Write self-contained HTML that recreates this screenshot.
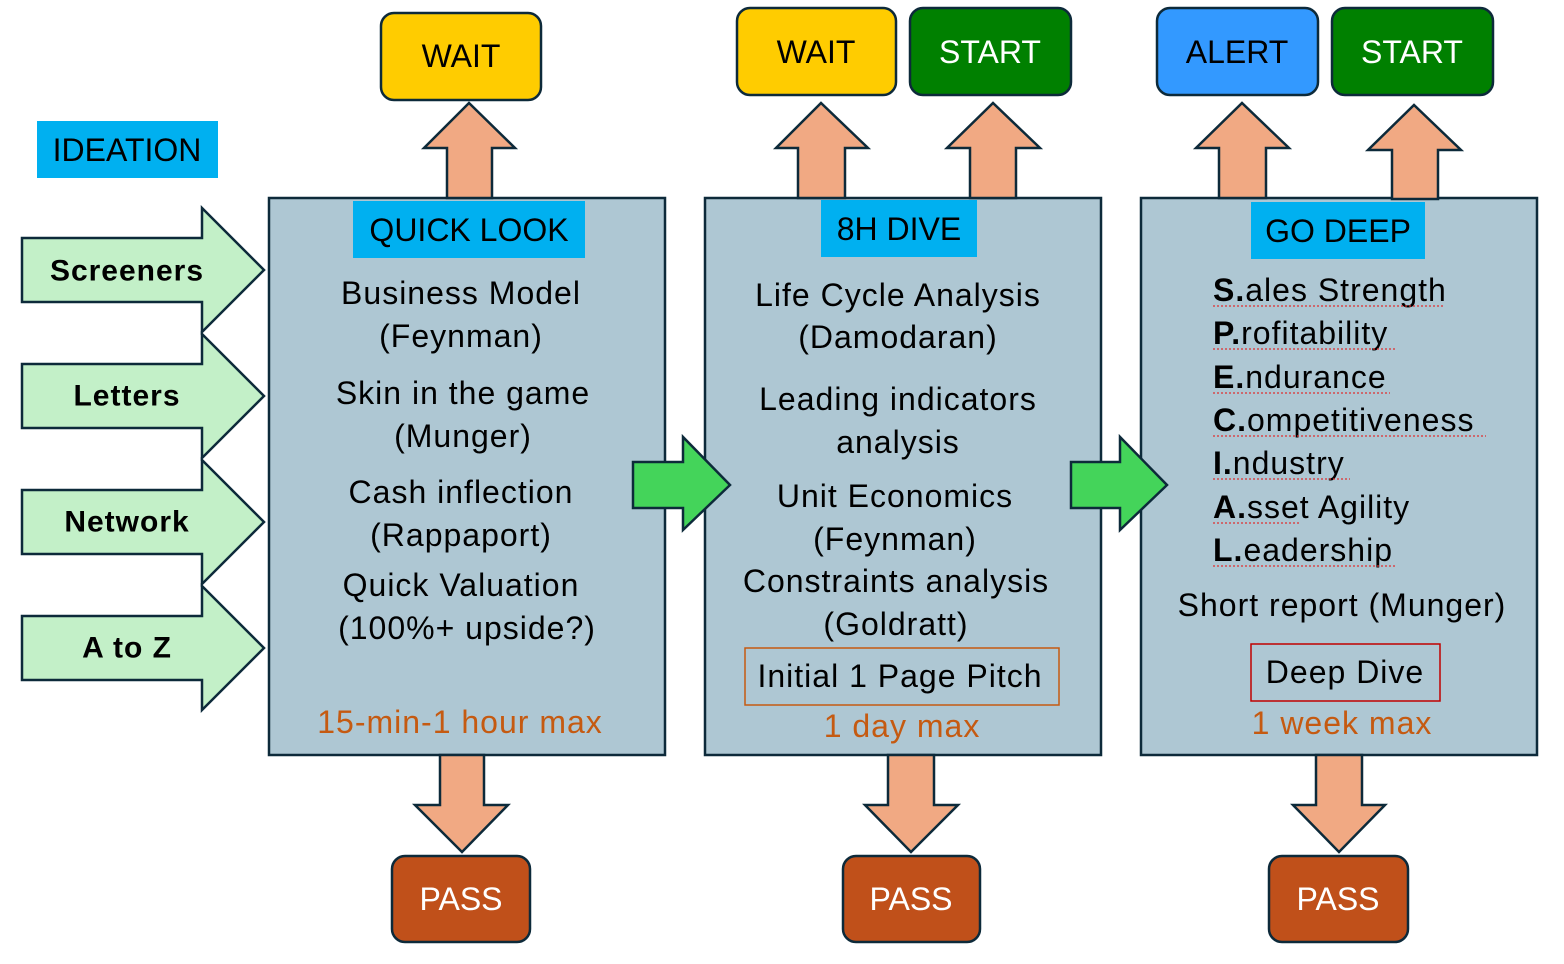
<!DOCTYPE html>
<html><head><meta charset="utf-8"><style>html,body{margin:0;padding:0;background:#fff}svg{display:block}</style></head>
<body>
<svg width="1564" height="964" viewBox="0 0 1564 964" xmlns="http://www.w3.org/2000/svg" font-family="Liberation Sans, sans-serif">
<g stroke="#0d2a3a" stroke-width="2.5">
<rect x="269" y="198" width="396" height="557" fill="#aec7d3"/>
<rect x="705" y="198" width="396" height="557" fill="#aec7d3"/>
<rect x="1141" y="198" width="396" height="557" fill="#aec7d3"/>
<g fill="#c3f0c8">
<polygon points="22,238 202,238 202,208 264,270 202,332 202,302 22,302"/>
<polygon points="22,364 202,364 202,334 264,396 202,458 202,428 22,428"/>
<polygon points="22,490 202,490 202,460 264,522 202,584 202,554 22,554"/>
<polygon points="22,616 202,616 202,586 264,648 202,710 202,680 22,680"/>
</g>
<g fill="#44d45a">
<polygon points="633,462 683,462 683,437 730,485 683,530 683,508 633,508"/>
<polygon points="1071,462 1120,462 1120,437 1167,485 1120,530 1120,508 1071,508"/>
</g>
<g fill="#f1a983">
<polygon points="447,198 447,148 424,148 469,103 515,148 492,148 492,198"/>
<polygon points="798,198 798,148 776,148 821,103 868,148 845,148 845,198"/>
<polygon points="970,198 970,148 947,148 993,103 1040,148 1016,148 1016,198"/>
<polygon points="1219,198 1219,148 1196,148 1242,103 1289,148 1266,148 1266,198"/>
<polygon points="1392,199 1392,150 1368,150 1414,105 1461,150 1438,150 1438,199"/>
<polygon points="440,755 440,805 415,805 462,852 508,805 484,805 484,755"/>
<polygon points="888,755 888,805 865,805 911,852 958,805 934,805 934,755"/>
<polygon points="1316,755 1316,805 1293,805 1339,852 1385,805 1362,805 1362,755"/>
</g>
<rect x="381" y="13" width="160" height="87" rx="13" fill="#ffcc00"/>
<rect x="737" y="8" width="159" height="87" rx="13" fill="#ffcc00"/>
<rect x="910" y="8" width="161" height="87" rx="13" fill="#008000"/>
<rect x="1157" y="8" width="161" height="87" rx="13" fill="#3399ff"/>
<rect x="1332" y="8" width="161" height="87" rx="13" fill="#008000"/>
<rect x="392" y="856" width="138" height="86" rx="13" fill="#c0501a"/>
<rect x="843" y="856" width="137" height="86" rx="13" fill="#c0501a"/>
<rect x="1269" y="856" width="139" height="86" rx="13" fill="#c0501a"/>
</g>
<g fill="#00b0f0">
<rect x="37" y="121" width="181" height="57"/>
<rect x="353" y="201" width="232" height="57"/>
<rect x="821" y="200" width="156" height="57"/>
<rect x="1251" y="202" width="174" height="57"/>
</g>
<rect x="745" y="648" width="314" height="57" fill="none" stroke="#c55a11" stroke-width="1.5"/>
<rect x="1251" y="644" width="189" height="57" fill="none" stroke="#c00000" stroke-width="1.5"/>
<g dominant-baseline="central" text-anchor="middle" font-size="32">
<text x="127" y="150">IDEATION</text>
<text x="469" y="230">QUICK LOOK</text>
<text x="899" y="229">8H DIVE</text>
<text x="1338" y="231">GO DEEP</text>
<text x="461" y="56">WAIT</text>
<text x="816" y="52">WAIT</text>
<text x="990" y="52" fill="#fff">START</text>
<text x="1237" y="52">ALERT</text>
<text x="1412" y="52" fill="#fff">START</text>
<text x="461" y="899" fill="#fff">PASS</text>
<text x="911" y="899" fill="#fff">PASS</text>
<text x="1338" y="899" fill="#fff">PASS</text>
<g font-weight="bold" font-size="30" letter-spacing="1">
<text x="127" y="271">Screeners</text>
<text x="127" y="396">Letters</text>
<text x="127" y="522">Network</text>
<text x="127" y="648">A to Z</text>
</g>
<g font-size="32" letter-spacing="1">
<text x="461" y="293">Business Model</text>
<text x="461" y="336">(Feynman)</text>
<text x="463" y="393">Skin in the game</text>
<text x="463" y="436">(Munger)</text>
<text x="461" y="492">Cash inflection</text>
<text x="461" y="535">(Rappaport)</text>
<text x="461" y="585">Quick Valuation</text>
<text x="467" y="628">(100%+ upside?)</text>
<text x="460" y="722" fill="#c55a11">15-min-1 hour max</text>
<text x="898" y="295">Life Cycle Analysis</text>
<text x="898" y="337">(Damodaran)</text>
<text x="898" y="399">Leading indicators</text>
<text x="898" y="442">analysis</text>
<text x="895" y="496">Unit Economics</text>
<text x="895" y="539">(Feynman)</text>
<text x="896" y="581">Constraints analysis</text>
<text x="896" y="624">(Goldratt)</text>
<text x="900" y="676">Initial 1 Page Pitch</text>
<text x="902" y="726" fill="#c55a11">1 day max</text>
<text x="1342" y="605">Short report (Munger)</text>
<text x="1345" y="672">Deep Dive</text>
<text x="1342" y="723" fill="#c55a11">1 week max</text>
</g>
</g>
<g font-size="32" letter-spacing="1" dominant-baseline="central">
<text x="1213" y="290"><tspan font-weight="bold">S.</tspan>ales Strength</text>
<text x="1213" y="333"><tspan font-weight="bold">P.</tspan>rofitability</text>
<text x="1213" y="377"><tspan font-weight="bold">E.</tspan>ndurance</text>
<text x="1213" y="420"><tspan font-weight="bold">C.</tspan>ompetitiveness</text>
<text x="1213" y="463"><tspan font-weight="bold">I.</tspan>ndustry</text>
<text x="1213" y="507"><tspan font-weight="bold">A.</tspan>sset Agility</text>
<text x="1213" y="550"><tspan font-weight="bold">L.</tspan>eadership</text>
</g>
<g stroke="#e03030" stroke-width="1.2" stroke-dasharray="2,2">
<line x1="1213" y1="306" x2="1445" y2="306"/>
<line x1="1213" y1="349" x2="1395" y2="349"/>
<line x1="1213" y1="393" x2="1390" y2="393"/>
<line x1="1213" y1="436" x2="1486" y2="436"/>
<line x1="1213" y1="479" x2="1350" y2="479"/>
<line x1="1213" y1="523" x2="1300" y2="523"/>
<line x1="1213" y1="566" x2="1395" y2="566"/>
</g>
</svg>
</body></html>
